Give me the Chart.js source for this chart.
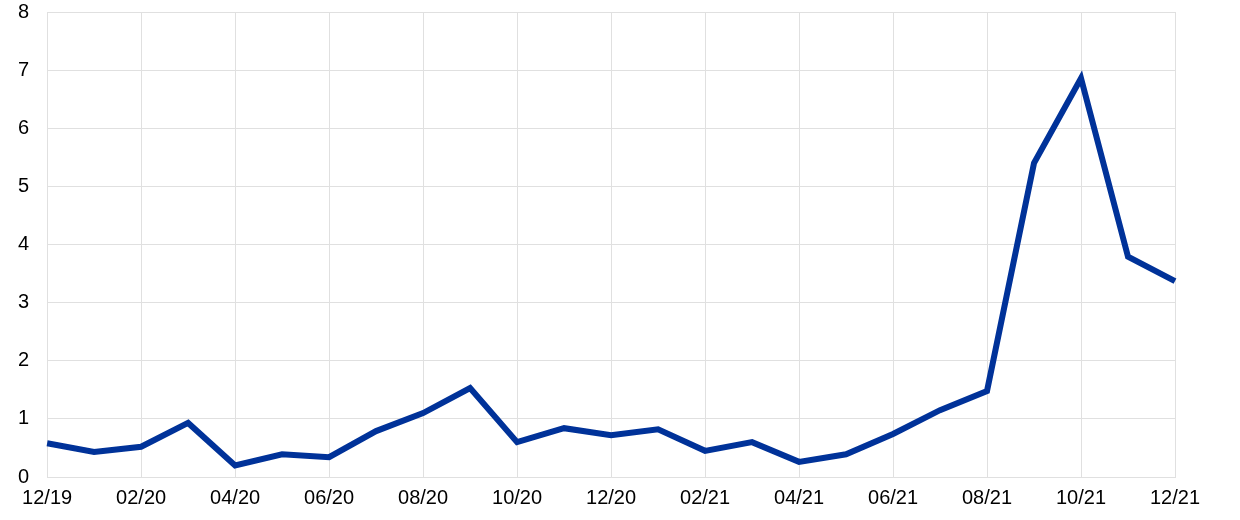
<!DOCTYPE html>
<html>
<head>
<meta charset="utf-8">
<script src="https://cdn.jsdelivr.net/npm/chart.js@4/dist/chart.umd.min.js"></script>
<style>
html,body{margin:0;padding:0;background:#fff;overflow:hidden;}
#wrap{width:1240px;height:520px;position:relative;overflow:hidden;}
#c{position:absolute;left:0;top:-18px;}
</style>
</head>
<body>
<div id="wrap"><canvas id="c" width="1240" height="540"></canvas></div>
<script>
const categories = ["12/19","01/20","02/20","03/20","04/20","05/20","06/20","07/20","08/20","09/20","10/20","11/20","12/20","01/21","02/21","03/21","04/21","05/21","06/21","07/21","08/21","09/21","10/21","11/21","12/21"];
const values = [0.58,0.43,0.52,0.93,0.20,0.39,0.34,0.79,1.10,1.53,0.60,0.84,0.72,0.82,0.45,0.60,0.26,0.39,0.74,1.15,1.48,5.40,6.86,3.79,3.37];
const yTicks = [0,1,2,3,4,5,6,7,8];

const gridCol = '#e0e0e0';
new Chart(document.getElementById('c'), {
  type: 'line',
  data: {
    labels: categories,
    datasets: [{
      data: values,
      borderColor: '#003299',
      borderWidth: 6,
      pointRadius: 0,
      tension: 0,
      fill: false,
      borderJoinStyle: 'miter'
    }]
  },
  options: {
    responsive: false,
    animation: false,
    layout: { padding: { left: 0, right: 65, top: 0, bottom: 3 } },
    plugins: { legend: { display: false }, tooltip: { enabled: false } },
    scales: {
      x: {
        type: 'category',
        offset: false,
        grid: {
          color: ctx => (ctx.index % 2 === 0 ? gridCol : 'rgba(0,0,0,0)'),
          lineWidth: 1,
          drawTicks: false
        },
        border: { color: gridCol, width: 1 },
        ticks: {
          autoSkip: false,
          maxRotation: 0,
          padding: 9,
          color: '#000',
          font: { family: 'Liberation Sans, Arial', size: 20 },
          callback: function(v, i) { return i % 2 === 0 ? categories[i] : ''; }
        }
      },
      y: {
        min: 0,
        max: 8,
        afterBuildTicks: axis => { axis.ticks = yTicks.map(v => ({ value: v })); },
        grid: { color: gridCol, lineWidth: 1, drawTicks: false },
        border: { color: gridCol, width: 1 },
        ticks: {
          padding: 18,
          color: '#000',
          font: { family: 'Liberation Sans, Arial', size: 20 }
        }
      }
    }
  }
});
</script>
</body>
</html>
